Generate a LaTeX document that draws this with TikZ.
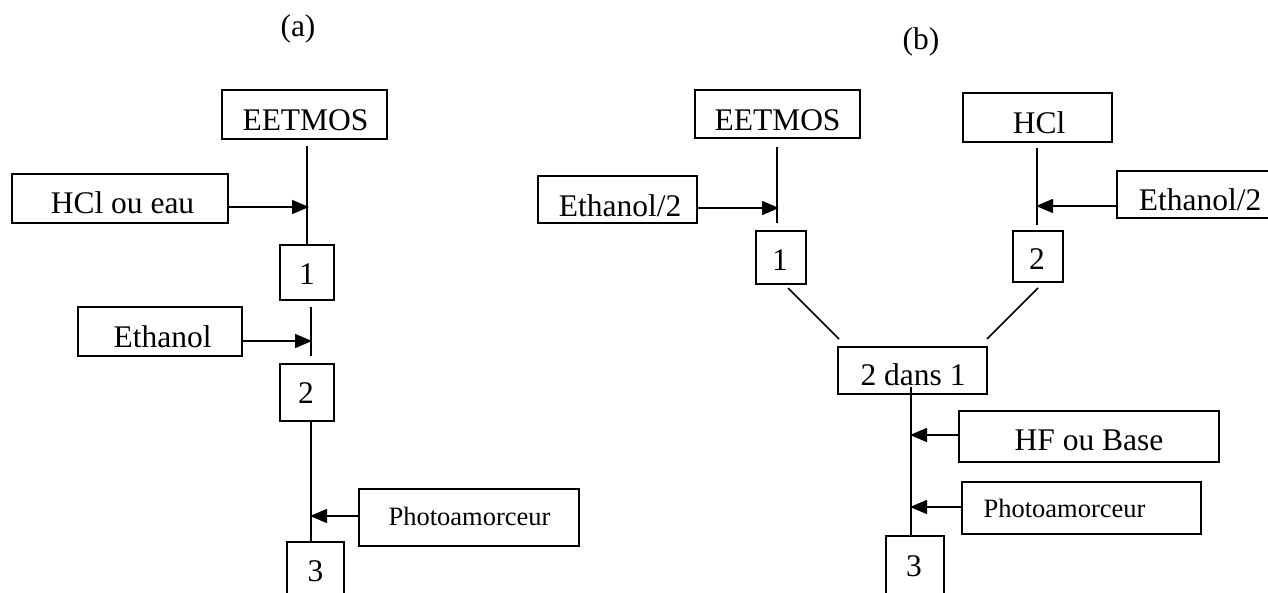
\documentclass[tikz,border=0pt]{standalone}
\usepackage{fontspec}
\setmainfont{Liberation Serif}
\usetikzlibrary{arrows.meta}
\begin{document}
\begin{tikzpicture}[x=1pt,y=-1pt,
  box/.style={draw,line width=1.6pt,rectangle,inner sep=0pt},
  txt/.style={inner sep=0pt,anchor=base,font=\fontsize{31.5}{38}\selectfont},
  stxt/.style={inner sep=0pt,anchor=base,font=\fontsize{26.5}{32}\selectfont},
  ln/.style={line width=1.5pt},
  arr/.style={line width=1.5pt,-{Triangle[length=17pt,width=14pt]}}]
\useasboundingbox (0,0) rectangle (1268,592);
\clip (0,0) rectangle (1268,592);
\fill[white] (0,0) rectangle (1268,592);

% ---------- (a) ----------
\node[inner sep=0pt,font=\fontsize{31.5}{38}\selectfont] (la) at (298,28.5) {(a)};

\node[box,minimum width=165pt,minimum height=49pt] (eetA) at (304.5,114.5) {};
\node[txt] (eetAt) at (305.5,130) {EETMOS};
\node[box,minimum width=216pt,minimum height=49pt] (hclA) at (120,198.5) {};
\node[txt] (hclAt) at (122.5,213) {HCl ou eau};
\node[box,minimum width=54pt,minimum height=55pt] (oneA) at (307,272.5) {};
\node[txt] (oneAt) at (307,284) {1};
\node[box,minimum width=164pt,minimum height=49pt] (ethA) at (160,331.5) {};
\node[txt] (ethAt) at (162.5,347) {Ethanol};
\node[box,minimum width=54pt,minimum height=57pt] (twoA) at (307,392.5) {};
\node[txt] (twoAt) at (306,403) {2};
\node[box,minimum width=220pt,minimum height=57pt] (phA) at (469,517.5) {};
\node[stxt] (phAt) at (469.5,525) {Photoamorceur};
\node[box,minimum width=57pt,minimum height=60pt] (threeA) at (315.5,572) {};
\node[txt] (threeAt) at (315.5,581) {3};

\coordinate (a1s) at (307,146);
\coordinate (a1t) at (309,207);
\draw[ln] (a1s) -- (oneA.north);
\draw[arr] (hclA.east |- a1t) -- (a1t);

\coordinate (a2s) at (311,307);
\coordinate (a2e) at (311,356);
\coordinate (a2t) at (312,341);
\draw[ln] (a2s) -- (a2e);
\draw[arr] (ethA.east |- a2t) -- (a2t);

\coordinate (a3s) at (311,421);
\coordinate (a3e) at (311,542);
\coordinate (a3t) at (310,516);
\draw[ln] (a3s) -- (a3e);
\draw[arr] (phA.west |- a3t) -- (a3t);

% ---------- (b) ----------
\node[inner sep=0pt,font=\fontsize{31.5}{38}\selectfont] (lb) at (921,42) {(b)};

\node[box,minimum width=165pt,minimum height=48pt] (eetB) at (777.5,114) {};
\node[txt] (eetBt) at (777.5,130) {EETMOS};
\node[box,minimum width=159pt,minimum height=47pt] (ethB1) at (617.5,199.5) {};
\node[txt] (ethB1t) at (620,216) {Ethanol/2};
\node[box,minimum width=50pt,minimum height=53pt] (oneB) at (781,257.5) {};
\node[txt] (oneBt) at (780,270) {1};

\node[box,minimum width=149pt,minimum height=49pt] (hclB) at (1037.5,117.5) {};
\node[txt] (hclBt) at (1039,133) {HCl};
\node[box,minimum width=163pt,minimum height=47pt] (ethB2) at (1198.5,194.5) {};
\node[txt] (ethB2t) at (1200,210) {Ethanol/2};
\node[box,minimum width=50pt,minimum height=51pt] (twoB) at (1038,256.5) {};
\node[txt] (twoBt) at (1037,269) {2};

\node[box,minimum width=149pt,minimum height=47pt] (dansB) at (912.5,370.5) {};
\node[txt] (dansBt) at (913,385) {2 dans 1};
\node[box,minimum width=260pt,minimum height=51pt] (hfB) at (1089,436.5) {};
\node[txt] (hfBt) at (1089,450) {HF ou Base};
\node[box,minimum width=239pt,minimum height=52pt] (phB) at (1081.5,508) {};
\node[stxt] (phBt) at (1064.5,517) {Photoamorceur};
\node[box,minimum width=58pt,minimum height=64pt] (threeB) at (915,568) {};
\node[txt] (threeBt) at (914,576) {3};

\coordinate (b1s) at (777,147);
\coordinate (b1e) at (777,223);
\coordinate (b1t) at (779,208);
\draw[ln] (b1s) -- (b1e);
\draw[arr] (ethB1.east |- b1t) -- (b1t);

\coordinate (b2s) at (1037,148);
\coordinate (b2e) at (1037,225);
\coordinate (b2t) at (1036,206);
\draw[ln] (b2s) -- (b2e);
\draw[arr] (ethB2.west |- b2t) -- (b2t);

\coordinate (dl1) at (788,288);
\coordinate (dl2) at (839,339);
\coordinate (dr1) at (1038,288);
\coordinate (dr2) at (987,339);
\draw[ln] (dl1) -- (dl2);
\draw[ln] (dr1) -- (dr2);

\coordinate (b3s) at (911,387);
\draw[ln] (b3s) -- (threeB.north -| b3s);
\coordinate (b3t) at (910,435);
\coordinate (b4t) at (910,507);
\draw[arr] (hfB.west |- b3t) -- (b3t);
\draw[arr] (phB.west |- b4t) -- (b4t);
\end{tikzpicture}
\end{document}
